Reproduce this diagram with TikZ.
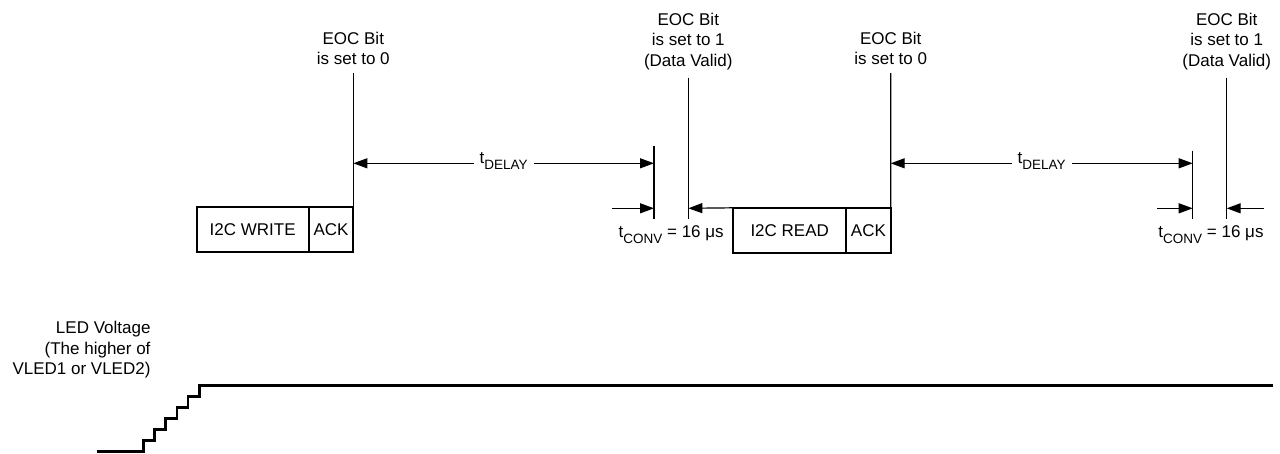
\documentclass[tikz,border=0pt]{standalone}
\usepackage{fontspec}
\setmainfont{Liberation Sans}
\usetikzlibrary{arrows.meta,positioning}
\newcommand{\tsub}[1]{t\raisebox{-6pt}{\fontsize{13.5}{14}\selectfont #1}}

\begin{document}
\begin{tikzpicture}[x=1pt,y=-1pt,every node/.style={font=\fontsize{17}{20.7}\selectfont},
  busbox/.style={draw,line width=1.8pt,minimum height=45pt,inner sep=0pt,outer sep=0pt},
  eoc/.style={align=center,inner sep=0pt,text depth=0pt},
  eocline/.style={line width=1.4pt},
  dimarrow/.style={line width=1.2pt,-{Triangle[length=14pt,width=10pt]}},
  dimboth/.style={line width=1.2pt,{Triangle[length=14pt,width=10pt]}-{Triangle[length=14pt,width=10pt]}},
  led/.style={line width=2.6pt}]
  \useasboundingbox (0,0) rectangle (1280,453);
  % bus transactions
  \node[busbox,minimum width=112pt] (wr) at (252.7,229.8) {I2C WRITE};
  \node[busbox,minimum width=44.6pt,right=0pt of wr] (wack) {ACK};
  \node[busbox,minimum width=112.7pt] (rd) at (789.7,230.3) {I2C READ};
  \node[busbox,minimum width=44.7pt,right=0pt of rd] (rack) {ACK};
  % EOC markers
  \coordinate (e0a) at (353.3,73);
  \coordinate (cva) at (654,146);
  \coordinate (e1a) at (688.3,77.5);
  \coordinate (e0b) at (890.7,73);
  \coordinate (cvb) at (1192.7,150.7);
  \coordinate (e1b) at (1226.7,77.5);
  \coordinate (low) at (0,219.3);
  \coordinate (dly) at (0,163.3);
  \coordinate (cnv) at (0,208.3);
  \node[eoc,above=8pt of e0a] (t0a) {EOC Bit\\is set to 0};
  \node[eoc,above=10.8pt of e1a] (t1a) {EOC Bit\\is set to 1\\(Data Valid)};
  \node[eoc,above=8pt of e0b] (t0b) {EOC Bit\\is set to 0};
  \node[eoc,above=10.8pt of e1b] (t1b) {EOC Bit\\is set to 1\\(Data Valid)};
  \draw[eocline] (e0a) -- (wack.north east);
  \draw[eocline] (e0b) -- (rack.north east);
  \draw[eocline] (cva) -- (cva |- low);
  \draw[eocline] (e1a) -- (e1a |- low);
  \draw[eocline] (cvb) -- (cvb |- low);
  \draw[eocline] (e1b) -- (e1b |- low);
  % delay and conversion times
  \draw[dimboth] (e0a |- dly) -- (cva |- dly) node[midway,anchor=base,fill=white,inner xsep=6pt,inner ysep=2pt] (dla) {\tsub{DELAY}};
  \draw[dimboth] (e0b |- dly) -- (cvb |- dly) node[midway,anchor=base,fill=white,inner xsep=6pt,inner ysep=2pt] (dlb) {\tsub{DELAY}};
  \draw[dimarrow] (611.7,208.3) coordinate (ca) -- (cva |- cnv);
  \draw[dimarrow] (rd.north west) -- (e1a |- cnv);
  \draw[dimarrow] (1157.3,208.3) coordinate (cb) -- (cvb |- cnv);
  \draw[dimarrow] (1264.3,208.3) coordinate (cc) -- (e1b |- cnv);
  \node[anchor=base,inner sep=0pt] (cv1) at (671.2,237.7) {\tsub{CONV} = 16 μs};
  \node[anchor=base,inner sep=0pt] (cv2) at (1211,237.7) {\tsub{CONV} = 16 μs};
  % LED supply ramp
  \node[eoc,align=right,anchor=south east] (ledv) at (150.7,375) {LED Voltage\\(The higher of\\VLED1 or VLED2)};
  \coordinate (vlow) at (96.7,451.3);
  \coordinate (vhigh) at (1273,385.3);
  \draw[led] (vlow) -- ++(46.6,0) \foreach \s in {1,...,5}{ -- ++(0,-11) -- ++(11.2,0)} -- ++(0,-11) -- (vhigh);
\end{tikzpicture}
\end{document}
